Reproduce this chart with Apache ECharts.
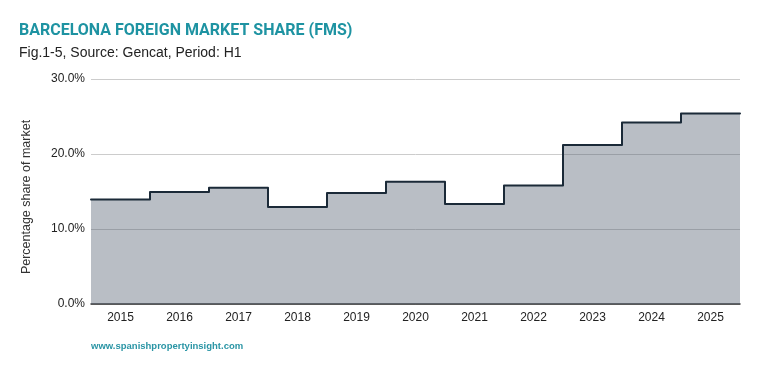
<!DOCTYPE html>
<html>
<head>
<meta charset="utf-8">
<script src="https://cdn.jsdelivr.net/npm/echarts@6/dist/echarts.min.js"></script>
<style>
html,body{margin:0;padding:0;background:#fff;}
#c{width:759px;height:371px;}
</style>
</head>
<body>
<div id="c"></div>
<script>
const years = ['2015','2016','2017','2018','2019','2020','2021','2022','2023','2024','2025'];
const fmsShare = [13.95, 14.95, 15.5, 12.95, 14.8, 16.3, 13.35, 15.8, 21.2, 24.2, 25.4];
const yTicks = [0, 10, 20, 30];

// step data on a hidden numeric axis spanning category bands
const stepData = fmsShare.map((v, i) => [i, v]);
stepData.push([years.length, fmsShare[fmsShare.length - 1]]);

const chart = echarts.init(document.getElementById('c'), null, {renderer: 'canvas'});
chart.setOption({
  animation: false,
  backgroundColor: '#ffffff',
  title: [
    {text: 'BARCELONA FOREIGN MARKET SHARE (FMS)', left: 19, top: 23, padding: 0,
     textStyle: {fontFamily: 'Roboto', fontWeight: 'bold', fontSize: 16, color: '#1e93a2'}},
    {text: 'Fig.1-5, Source: Gencat, Period: H1', left: 19, top: 46, padding: 0,
     textStyle: {fontFamily: 'Liberation Sans', fontWeight: 'normal', fontSize: 14, color: '#222222'}},
    {text: 'www.spanishpropertyinsight.com', left: 91, top: 341, padding: 0,
     textStyle: {fontFamily: 'Liberation Sans', fontWeight: 'bold', fontSize: 9.5, color: '#2a95a5'}}
  ],
  graphic: [{
    type: 'text', x: 27, y: 197, rotation: Math.PI / 2,
    style: {text: 'Percentage share of market', fontFamily: 'Liberation Sans', fontSize: 12.5,
      fill: '#333', align: 'center', verticalAlign: 'middle'}
  }],
  grid: {left: 91, right: 19, top: 79, bottom: 67, containLabel: false},
  xAxis: [
    {type: 'category', data: years, boundaryGap: true,
     axisLine: {show: true, lineStyle: {color: '#333', width: 1.5}},
     axisTick: {show: false},
     axisLabel: {fontFamily: 'Liberation Sans', fontSize: 12, color: '#222', margin: 8},
     splitLine: {show: false}},
    {type: 'value', min: 0, max: years.length, show: false, splitLine: {show: false}}
  ],
  yAxis: {
    type: 'value', min: yTicks[0], max: yTicks[yTicks.length - 1], interval: 10,
    axisLine: {show: false}, axisTick: {show: false},
    axisLabel: {fontFamily: 'Liberation Sans', fontSize: 12, color: '#222', margin: 6,
      formatter: v => v.toFixed(1) + '%'},
    splitLine: {show: true, lineStyle: {color: '#cccccc', width: 1}}
  },
  series: [{
    type: 'line', xAxisIndex: 1, step: 'end', data: stepData,
    symbol: 'none', z: 1,
    lineStyle: {color: '#1b2a38', width: 2, join: 'round', cap: 'round'},
    areaStyle: {color: '#505c6e', opacity: 0.4}
  }]
});
</script>
</body>
</html>
